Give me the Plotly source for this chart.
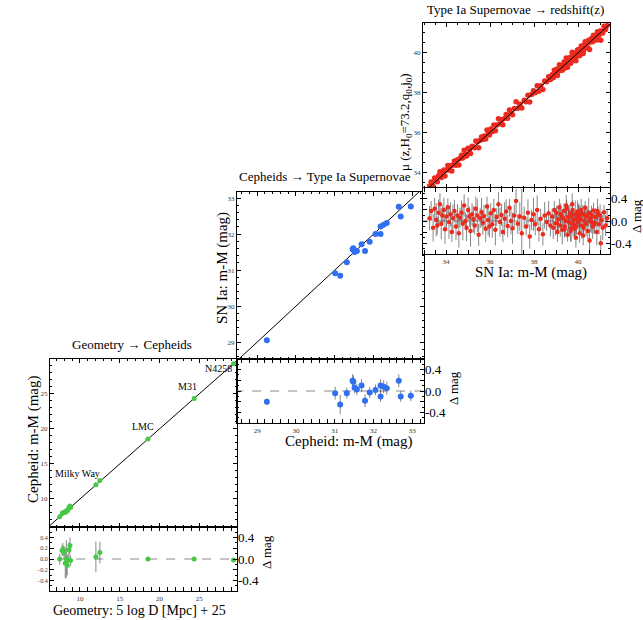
import plotly.graph_objects as go

W, H = 643, 620
FONT = "Liberation Serif"
GREEN = "#46c846"
BLUE = "#2f6ff0"
RED = "#ec2a1e"
ERRC = "rgba(70,70,70,0.65)"

# ---------------- Panel 1: Geometry -> Cepheids ----------------
geo_x = [7.45, 7.75, 7.85, 8.0, 8.15, 8.28, 8.4, 8.5, 8.62, 8.74, 8.82, 12.0, 12.5, 18.55, 24.35, 29.3]
geo_y = [7.45, 7.91, 8.03, 8.12, 8.07, 8.28, 8.28, 8.48, 8.79, 8.99, 8.79, 12.04, 12.62, 18.55, 24.35, 29.28]
geo_res = [0.0, 0.16, 0.18, 0.12, -0.08, 0.0, -0.12, -0.02, 0.17, 0.25, -0.03, 0.04, 0.12, 0.0, 0.0, -0.02]
geo_err = [0.1, 0.1, 0.12, 0.12, 0.28, 0.35, 0.18, 0.12, 0.14, 0.15, 0.1, 0.28, 0.2, 0.03, 0.04, 0.04]
geo_labels = ["Milky Way", "LMC", "M31", "N4258"]
geo_label_x = [6.6, 17.9, 23.5, 27.4]
geo_label_y = [13.7, 20.3, 26.1, 28.6]

# ---------------- Panel 2: Cepheids -> SN Ia ----------------
cep_x = [29.25, 31.01, 31.14, 31.31, 31.46, 31.48, 31.51, 31.57, 31.69, 31.78, 31.90, 32.05, 32.18, 32.18, 32.26, 32.34, 32.65, 32.70, 32.96]
cep_y = [29.05, 30.91, 30.84, 31.22, 31.58, 31.61, 31.50, 31.53, 31.72, 31.53, 31.79, 32.00, 32.00, 32.21, 32.26, 32.31, 32.76, 32.49, 32.77]
cep_res = [-0.20, -0.04, -0.25, -0.04, 0.19, 0.17, 0.06, 0.03, 0.10, -0.18, -0.03, 0.02, -0.10, 0.10, 0.08, 0.05, 0.19, -0.10, -0.09]
cep_err = [0.06, 0.12, 0.18, 0.10, 0.12, 0.12, 0.10, 0.10, 0.12, 0.12, 0.10, 0.10, 0.10, 0.12, 0.12, 0.12, 0.12, 0.10, 0.10]

# ---------------- Panel 3: SN Ia -> redshift ----------------
sn_x = [33.25, 33.32, 33.41, 33.48, 33.55, 33.6, 33.66, 33.72, 33.78, 33.83, 33.9, 33.95, 34.02, 34.08, 34.13, 34.2, 34.26, 34.31, 34.38, 34.45,
        34.52, 34.58, 34.63, 34.7, 34.76, 34.82, 34.88, 34.93, 35.0, 35.06, 35.11, 35.18, 35.24, 35.3, 35.35, 35.42, 35.48, 35.55, 35.61, 35.67, 35.72, 35.8, 35.86, 35.91, 35.97,
        36.03, 36.1, 36.17, 36.24, 36.3, 36.38, 36.45, 36.52, 36.58, 36.66, 36.73, 36.8, 36.88, 36.95, 37.02, 37.1, 37.18, 37.26, 37.35, 37.44,
        37.55, 37.64, 37.72, 37.8, 37.88, 37.97, 38.05, 38.14, 38.22, 38.3, 38.4, 38.48, 38.57, 38.66, 38.74,
        38.82, 38.87, 38.92, 38.97, 39.02, 39.06, 39.1, 39.15, 39.19, 39.23, 39.28, 39.32, 39.36, 39.4, 39.44, 39.48, 39.52, 39.55, 39.59, 39.63,
        39.66, 39.7, 39.73, 39.77, 39.8, 39.84, 39.87, 39.9, 39.94, 39.97, 40.0, 40.04, 40.07, 40.1, 40.14, 40.17, 40.21, 40.25, 40.28, 40.32,
        40.36, 40.4, 40.44, 40.48, 40.52, 40.57, 40.61, 40.66, 40.7, 40.75, 40.8, 40.85, 40.9, 40.95, 41.0, 41.06, 41.12, 41.18, 41.25, 41.32,
        39.05, 39.21, 39.38, 39.57, 39.75, 39.92, 40.09, 40.23, 40.42, 40.55, 40.72, 40.88, 41.03, 39.46, 39.68, 39.99, 40.3, 40.6, 40.02, 39.85]
sn_res = [0.05, 0.18, -0.12, 0.22, 0.02, -0.08, 0.15, 0.3, -0.05, 0.1, 0.2, -0.15, 0.08, 0.25, -0.02, 0.12, -0.2, 0.05, 0.18, -0.1,
          0.1, -0.22, 0.06, 0.15, -0.05, 0.28, 0.0, -0.12, 0.2, 0.08, -0.18, 0.12, 0.03, -0.08, 0.22, 0.1, -0.25, 0.05, 0.16, -0.03, 0.09, -0.14, 0.26, 0.02, -0.1,
          0.14, -0.06, 0.2, -0.16, 0.07, 0.3, -0.02, 0.11, -0.2, 0.04, 0.17, -0.09, 0.24, 0.0, -0.13, 0.1, 0.36, -0.05, 0.08, -0.22,
          0.06, -0.1, 0.15, -0.28, 0.02, 0.12, -0.06, 0.2, -0.15, 0.04, -0.24, 0.1, -0.02, 0.14, -0.08,
          0.08, -0.12, 0.2, -0.04, 0.15, -0.2, 0.03, 0.25, -0.08, 0.1, -0.16, 0.05, 0.18, -0.1, 0.0, 0.22, -0.25, 0.07, -0.03, 0.14,
          -0.18, 0.09, 0.3, -0.06, 0.02, -0.14, 0.12, -0.3, 0.06, 0.17, -0.02, 0.1, -0.22, 0.04, 0.2, -0.08, 0.13, -0.12, 0.01, 0.24,
          -0.05, 0.08, -0.18, 0.15, -0.35, 0.05, 0.11, -0.1, 0.19, -0.03, 0.07, -0.2, 0.14, -0.06, 0.1, 0.02, -0.12, 0.16, -0.08, 0.05,
          -0.04, 0.12, -0.15, 0.06, 0.2, -0.1, 0.03, -0.26, 0.09, 0.0, -0.07, 0.18, -0.4, 0.28, -0.13, 0.04, 0.1, -0.02, 0.14, -0.09]
sn_err = [0.22, 0.18, 0.25, 0.2, 0.3, 0.16, 0.24, 0.2, 0.28, 0.18, 0.22, 0.26, 0.2, 0.16, 0.3, 0.22, 0.18, 0.25, 0.2, 0.24,
          0.2, 0.26, 0.18, 0.22, 0.3, 0.2, 0.16, 0.24, 0.22, 0.18, 0.28, 0.2, 0.24, 0.16, 0.22, 0.3, 0.2, 0.18, 0.26, 0.22, 0.2, 0.24, 0.18, 0.28, 0.2,
          0.18, 0.24, 0.2, 0.28, 0.16, 0.22, 0.26, 0.2, 0.18, 0.3, 0.22, 0.2, 0.16, 0.24, 0.28, 0.2, 0.22, 0.18, 0.26, 0.8,
          0.2, 0.16, 0.24, 0.22, 0.18, 0.3, 0.2, 0.26, 0.22, 0.18, 0.2, 0.24, 0.16, 0.22, 0.2,
          0.14, 0.2, 0.16, 0.22, 0.12, 0.18, 0.24, 0.15, 0.2, 0.13, 0.26, 0.17, 0.14, 0.2, 0.22, 0.16, 0.12, 0.19, 0.24, 0.15,
          0.18, 0.13, 0.2, 0.22, 0.16, 0.14, 0.25, 0.18, 0.12, 0.2, 0.15, 0.22, 0.17, 0.13, 0.2, 0.24, 0.16, 0.14, 0.19, 0.12,
          0.22, 0.18, 0.15, 0.26, 0.2, 0.13, 0.17, 0.22, 0.14, 0.2, 0.16, 0.24, 0.12, 0.18, 0.2, 0.15, 0.22, 0.13, 0.19, 0.16,
          0.15, 0.2, 0.13, 0.22, 0.17, 0.14, 0.24, 0.18, 0.12, 0.2, 0.16, 0.22, 0.14, 0.19, 0.25, 0.13, 0.18, 0.2, 0.15, 0.22]
sn_mu = [x + r for x, r in zip(sn_x, sn_res)]

resid_ticks = [-0.4, 0.0, 0.4]
resid_ticktext = ["-0.4", "0.0", "0.4"]

# ---------------- layout helpers ----------------
def fx(px):
    return px / W

def fy(py):
    return 1 - py / H

def frame(dtick, minor, **kw):
    d = dict(showline=True, linecolor="black", linewidth=1.2, mirror="allticks",
             ticks="inside", ticklen=4, tickwidth=1, tickcolor="black",
             minor=dict(ticks="inside", ticklen=2, dtick=minor, tickcolor="black", tickwidth=1),
             dtick=dtick, showgrid=False, zeroline=False,
             tickfont=dict(family=FONT, size=7, color="#333"))
    d.update(kw)
    return d

fig = go.Figure()

panels = [
    dict(x0=50, x1=237, t=359, m=527, b=591, xr=[6.23, 29.74], yr=[6.0, 29.97], dt=5, mn=1),
    dict(x0=237, x1=424, t=192, m=359, b=423, xr=[28.48, 33.3], yr=[28.53, 33.17], dt=1, mn=0.2),
    dict(x0=423, x1=610, t=23, m=188, b=254, xr=[32.95, 41.45], yr=[33.2, 41.5], dt=2, mn=0.5),
]

layout_axes = {}
for i, p in enumerate(panels):
    k = 3 * i
    xm, ym = f"x{k+1 if k else ''}", f"y{k+1 if k else ''}"
    xr_, yr_ = f"x{k+2}", f"y{k+2}"
    yo = f"y{k+3}"
    xdom = [fx(p["x0"]), fx(p["x1"])]
    layout_axes[f"xaxis{k+1 if k else ''}"] = frame(p["dt"], p["mn"], domain=xdom, range=p["xr"],
                                                  anchor=ym, showticklabels=False)
    layout_axes[f"yaxis{k+1 if k else ''}"] = frame(p["dt"], p["mn"], domain=[fy(p["m"]), fy(p["t"])],
                                                  range=p["yr"], anchor=xm)
    layout_axes[f"xaxis{k+2}"] = frame(p["dt"], p["mn"], domain=xdom, range=p["xr"], anchor=yr_)
    layout_axes[f"yaxis{k+2}"] = frame(0.2, 0.1, domain=[fy(p["b"]), fy(p["m"])], range=[-0.595, 0.595],
                                       anchor=xr_, showticklabels=(i == 0), tickformat=".1f",
                                       tickfont=dict(family=FONT, size=6, color="#333"))
    layout_axes[f"yaxis{k+3}"] = dict(overlaying=yr_, side="right", anchor=xr_,
                                      range=[-0.595, 0.595], tickmode="array", tickvals=resid_ticks,
                                      ticktext=resid_ticktext, showline=False, ticks="",
                                      showgrid=False, zeroline=False,
                                      tickfont=dict(family=FONT, size=13, color="black"))
    lo = min(p["xr"][0], p["yr"][0]) - 1
    hi = max(p["xr"][1], p["yr"][1]) + 1
    fig.add_trace(go.Scatter(x=[lo, hi], y=[lo, hi], mode="lines", line=dict(color="black", width=1),
                             xaxis=xm, yaxis=ym, showlegend=False, hoverinfo="skip"))
    fig.add_trace(go.Scatter(x=[lo, hi], y=[0, 0], mode="lines",
                             line=dict(color="#888", width=1, dash="dash"),
                             xaxis=xr_, yaxis=yr_, showlegend=False, hoverinfo="skip"))
    fig.add_trace(go.Scatter(x=[], y=[], xaxis=xr_, yaxis=yo, showlegend=False, hoverinfo="skip"))

# Panel 1 data
fig.add_trace(go.Scatter(x=geo_x, y=geo_y, mode="markers", marker=dict(color=GREEN, size=5),
                         xaxis="x", yaxis="y", showlegend=False))
fig.add_trace(go.Scatter(x=geo_x, y=geo_res, mode="markers", marker=dict(color=GREEN, size=5),
                         error_y=dict(type="data", array=geo_err, color=ERRC, thickness=1, width=0),
                         xaxis="x2", yaxis="y2", showlegend=False))
# Panel 2 data
fig.add_trace(go.Scatter(x=cep_x, y=cep_y, mode="markers", marker=dict(color=BLUE, size=6),
                         xaxis="x4", yaxis="y4", showlegend=False))
fig.add_trace(go.Scatter(x=cep_x, y=cep_res, mode="markers", marker=dict(color=BLUE, size=6),
                         error_y=dict(type="data", array=cep_err, color=ERRC, thickness=1, width=0),
                         xaxis="x5", yaxis="y5", showlegend=False))
# Panel 3 data
fig.add_trace(go.Scatter(x=sn_x, y=sn_mu, mode="markers", marker=dict(color=RED, size=5.5),
                         xaxis="x7", yaxis="y7", showlegend=False))
fig.add_trace(go.Scatter(x=sn_x, y=sn_res, mode="markers", marker=dict(color=RED, size=4.5),
                         error_y=dict(type="data", array=sn_err, color=ERRC, thickness=1, width=0),
                         xaxis="x8", yaxis="y8", showlegend=False))
fig.add_trace(go.Scatter(x=[31, 43], y=[31, 43], mode="lines", line=dict(color="black", width=1),
                         xaxis="x7", yaxis="y7", showlegend=False, hoverinfo="skip"))

annotations = []
for t, xv, yv in zip(geo_labels, geo_label_x, geo_label_y):
    annotations.append(dict(text=t, x=xv, y=yv, xref="x", yref="y", showarrow=False,
                            xanchor="left" if t == "Milky Way" else "center",
                            font=dict(family=FONT, size=10, color="black")))

def ann(text, px, py, size, angle=0):
    annotations.append(dict(text=text, x=fx(px), y=fy(py), xref="paper", yref="paper",
                            showarrow=False, textangle=angle, xanchor="center", yanchor="middle",
                            font=dict(family=FONT, size=size, color="black")))

ann("Geometry → Cepheids", 132, 344, 13)
ann("Cepheids → Type Ia Supernovae", 325, 177, 13)
ann("Type Ia Supernovae → redshift(z)", 515, 10, 13)
ann("Geometry: 5 log D [Mpc] + 25", 139, 610, 14)
ann("Cepheid: m-M (mag)", 348, 441, 15)
ann("SN Ia: m-M (mag)", 531, 272, 15)
ann("Cepheid: m-M (mag)", 33, 440, 15, -90)
ann("SN Ia: m-M (mag)", 222, 268, 15, -90)
ann("μ (z,H<sub>0</sub>=73.2,q<sub>0</sub>,j<sub>0</sub>)", 405, 122, 13, -90)
ann("Δ mag", 266, 552, 13, -90)
ann("Δ mag", 453, 388, 13, -90)
ann("Δ mag", 636, 216, 13, -90)

fig.update_layout(width=W, height=H, margin=dict(l=0, r=0, t=0, b=0),
                  paper_bgcolor="white", plot_bgcolor="white",
                  font=dict(family=FONT, color="black"),
                  annotations=annotations, **layout_axes)

fig.write_html("out.html", config={"displayModeBar": False},
               post_script="document.body.style.margin='0';")
